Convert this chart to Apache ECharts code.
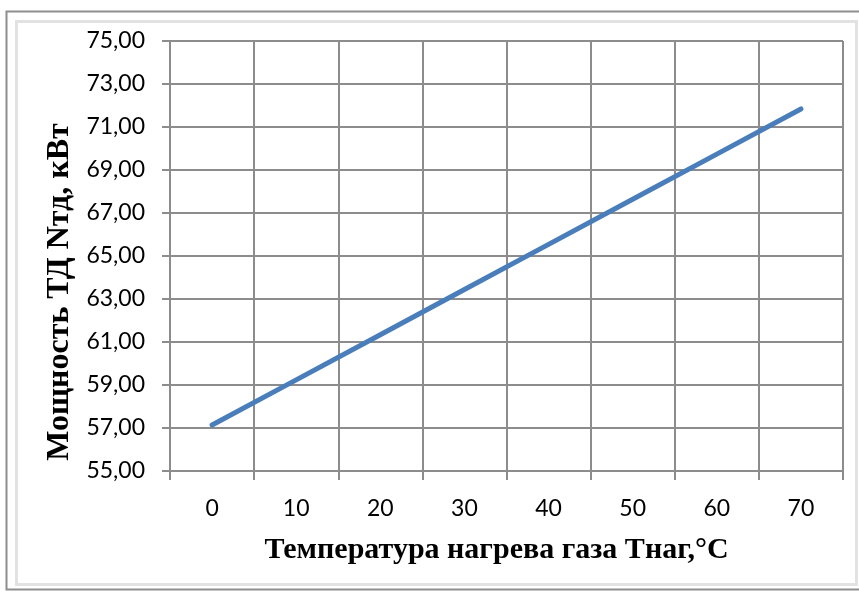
<!DOCTYPE html>
<html>
<head>
<meta charset="utf-8">
<script src="https://cdn.jsdelivr.net/npm/echarts@6/dist/echarts.min.js"></script>
<style>
  html, body { margin: 0; padding: 0; background: #fff; }
  #main { width: 859px; height: 592px; }
</style>
</head>
<body>
<div id="main"></div>
<script>
// температура нагрева газа, °C
var temps = ['0', '10', '20', '30', '40', '50', '60', '70'];
// мощность ТД, кВт (читается с графика)
var power = [57.14, 59.24, 61.34, 63.44, 65.54, 67.64, 69.74, 71.84];

var chart = echarts.init(document.getElementById('main'));

var gridColor = '#8c8c8c';

var option = {
  animation: false,
  backgroundColor: '#fff',
  graphic: [
    // рамка
    {
      type: 'rect',
      shape: { x: 6.5, y: 11.5, width: 870, height: 578 },
      style: { fill: 'none', stroke: '#8e8e8e', lineWidth: 2 }
    },
    {
      type: 'rect',
      shape: { x: 16.5, y: 21.5, width: 840, height: 563 },
      style: { fill: 'none', stroke: '#e2e2e2', lineWidth: 3 }
    }
  ],
  grid: {
    left: 170,
    right: 16,
    top: 41,
    bottom: 121
  },
  xAxis: {
    type: 'category',
    data: temps,
    boundaryGap: true,
    name: 'Температура нагрева газа Тнаг,°С',
    nameLocation: 'middle',
    nameGap: 64,
    nameTextStyle: {
      fontFamily: 'Liberation Serif',
      fontWeight: 'bold',
      fontSize: 30,
      color: '#000',
      padding: [0, 20, 0, 0]
    },
    axisLine: { lineStyle: { color: gridColor, width: 2 } },
    axisTick: { show: true, length: 9, lineStyle: { color: gridColor, width: 2 } },
    axisLabel: {
      fontFamily: 'Lato',
      fontSize: 23,
      color: '#000',
      margin: 26
    },
    splitLine: { show: true, lineStyle: { color: gridColor, width: 2 } }
  },
  yAxis: {
    type: 'value',
    min: 55,
    max: 75,
    interval: 2,
    name: 'Мощность ТД Nтд, кВт',
    nameLocation: 'middle',
    nameGap: 93,
    nameTextStyle: {
      fontFamily: 'Liberation Serif',
      fontWeight: 'bold',
      fontSize: 32,
      color: '#000',
      padding: [0, 72, 0, 0]
    },
    axisLine: { show: true, lineStyle: { color: gridColor, width: 2 } },
    axisTick: { show: true, length: 8, lineStyle: { color: gridColor, width: 2 } },
    axisLabel: {
      fontFamily: 'Lato',
      fontSize: 23,
      color: '#000',
      margin: 25,
      formatter: function (v) { return v.toFixed(2).replace('.', ','); }
    },
    splitLine: { show: true, lineStyle: { color: gridColor, width: 2 } }
  },
  series: [
    {
      type: 'line',
      data: power,
      showSymbol: false,
      symbol: 'none',
      lineStyle: { color: '#4a7ebb', width: 5, cap: 'round' },
      itemStyle: { color: '#4a7ebb' }
    }
  ]
};

chart.setOption(option);
</script>
</body>
</html>
